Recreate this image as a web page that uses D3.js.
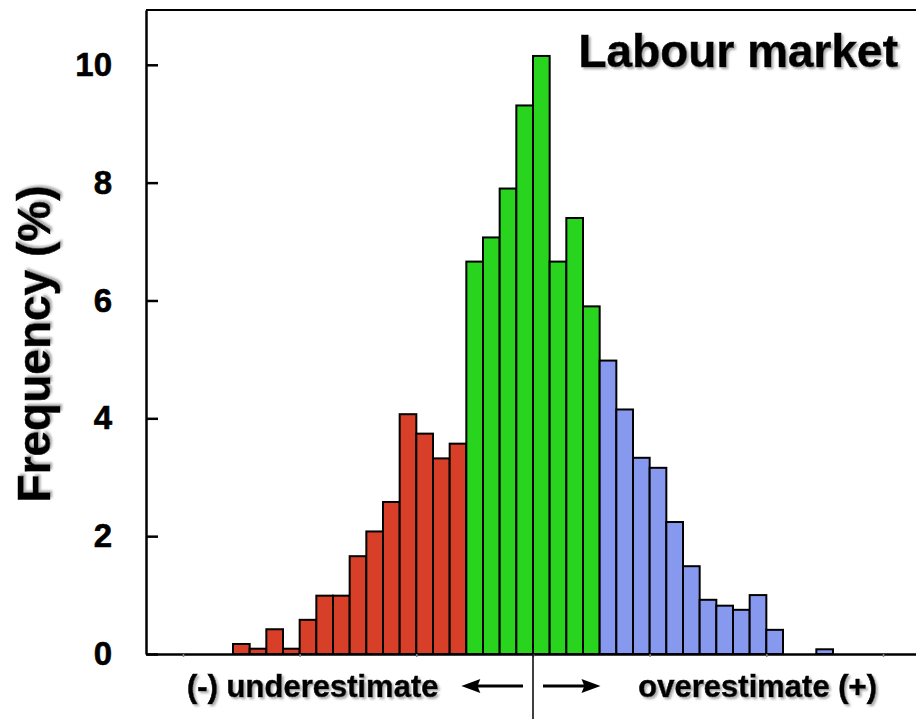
<!DOCTYPE html>
<html>
<head>
<meta charset="utf-8">
<script src="https://cdn.jsdelivr.net/npm/d3@7"></script>
<style>
  body { margin: 0; background: #fff; }
  svg { display: block; font-family: "Liberation Sans", Arial, sans-serif; font-weight: bold; }
</style>
</head>
<body>
<div id="chart"></div>
<script>
// bins are in units of one bar width, 0 = no error
const underBins = [-18, -17, -16, -15, -14, -13, -12, -11, -10, -9, -8, -7, -6, -5]
const underValues = [0.17, 0.09, 0.42, 0.09, 0.58, 0.99, 0.99, 1.66, 2.08, 2.58, 4.07, 3.74, 3.32, 3.57]
const nearBins = [-4, -3, -2, -1, 0, 1, 2, 3]
const nearValues = [6.66, 7.07, 7.90, 9.31, 10.15, 6.66, 7.40, 5.90]
const overBins = [4, 5, 6, 7, 8, 9, 10, 11, 12, 13, 14, 17]
const overValues = [4.98, 4.15, 3.33, 3.16, 2.24, 1.49, 0.92, 0.82, 0.75, 1.00, 0.41, 0.08]
const yTicks = [0, 2, 4, 6, 8, 10]
const xTicks = [-21, -14, -7, 0, 7, 14, 21]
const title = 'Labour market'
const yLabel = 'Frequency (%)'
const leftLabel = '(-) underestimate'
const rightLabel = 'overestimate (+)'

const width = 916,
    height = 719

const margin = ({
    top: 10,
    right: 0,
    bottom: 65,
    left: 146
})

const x = d3.scaleLinear()
    .domain([-23.22, 22.98])
    .range([margin.left, width - margin.right])

const y = d3.scaleLinear()
    .domain([0, 10.93])
    .range([height - margin.bottom, margin.top])

const svg = d3.select('#chart').append('svg')
    .attr('width', width)
    .attr('height', height)

const defs = svg.append('defs')
defs.append('filter')
    .attr('id', 'shadow')
    .attr('x', '-10%').attr('y', '-10%')
    .attr('width', '120%').attr('height', '130%')
    .append('feDropShadow')
    .attr('dx', 2).attr('dy', 2)
    .attr('stdDeviation', 0.8)
    .attr('flood-color', '#999')
    .attr('flood-opacity', 0.8)

const groups = [
    { bins: underBins, values: underValues, fill: '#d83f29' },
    { bins: nearBins, values: nearValues, fill: '#29d41f' },
    { bins: overBins, values: overValues, fill: '#8799ef' }
]

groups.forEach(g => {
    const data = g.bins.map((b, i) => ({ bin: b, value: g.values[i] }))
    svg.append('g')
        .selectAll('rect')
        .data(data)
        .join('rect')
        .attr('x', d => x(d.bin))
        .attr('y', d => y(d.value))
        .attr('width', d => x(d.bin + 1) - x(d.bin))
        .attr('height', d => y(0) - y(d.value))
        .attr('fill', g.fill)
        .attr('stroke', '#000')
        .attr('stroke-width', 2)
})

// frame: top line
svg.append('line')
    .attr('x1', x.range()[0]).attr('x2', x.range()[1])
    .attr('y1', y(10.93)).attr('y2', y(10.93))
    .attr('stroke', '#000').attr('stroke-width', 2)

// x axis, unlabeled small ticks
const xAxis = svg.append('g')
    .attr('transform', `translate(0,${y(0)})`)
    .call(d3.axisBottom(x).tickValues(xTicks).tickSizeInner(3).tickSizeOuter(0).tickFormat(''))
xAxis.select('.domain').attr('stroke-width', 2.5)
xAxis.selectAll('.tick line').attr('stroke', '#888').attr('stroke-width', 1.5)

// y axis
const yAxis = svg.append('g')
    .attr('transform', `translate(${margin.left},0)`)
    .call(d3.axisLeft(y).tickValues(yTicks).tickSizeInner(18).tickSizeOuter(0).tickPadding(16))
yAxis.select('.domain').attr('stroke-width', 2.5)
yAxis.selectAll('.tick line').attr('x2', 12).attr('stroke-width', 2.5)
yAxis.selectAll('.tick text')
    .attr('font-size', 33)
    .attr('font-weight', 'bold')
    .attr('font-family', '"Liberation Sans", Arial, sans-serif')
    .attr('fill', '#000')
    .attr('stroke', '#000')
    .attr('stroke-width', 0.6)

// centre line below the axis
svg.append('line')
    .attr('x1', x(0)).attr('x2', x(0))
    .attr('y1', y(0)).attr('y2', height)
    .attr('stroke', '#000').attr('stroke-width', 1.5)

// arrows: shaft plus a filled head
function arrow(from, to, ay) {
    const x0 = x(from), x1 = x(to)
    const dir = Math.sign(x1 - x0)
    const headLen = 19, headHalf = 7
    svg.append('line')
        .attr('x1', x0).attr('x2', x1 - dir * headLen * 0.8)
        .attr('y1', ay).attr('y2', ay)
        .attr('stroke', '#000').attr('stroke-width', 3)
    svg.append('path')
        .attr('d', `M${x1},${ay} L${x1 - dir * headLen},${ay - headHalf} L${x1 - dir * headLen * 0.85},${ay} L${x1 - dir * headLen},${ay + headHalf} Z`)
        .attr('fill', '#000')
}
arrow(-0.6, -4.3, 686)
arrow(0.6, 4.05, 686)

const labelStyle = sel => sel
    .attr('fill', '#000')
    .attr('stroke', '#000')
    .attr('stroke-width', 0.6)
    .attr('filter', 'url(#shadow)')

svg.append('text')
    .attr('x', 187).attr('y', 697)
    .attr('font-size', 31)
    .call(labelStyle)
    .text(leftLabel)

svg.append('text')
    .attr('x', 877).attr('y', 697)
    .attr('text-anchor', 'end')
    .attr('font-size', 31)
    .call(labelStyle)
    .text(rightLabel)

svg.append('text')
    .attr('x', 898).attr('y', 67)
    .attr('text-anchor', 'end')
    .attr('font-size', 46)
    .call(labelStyle)
    .text(title)

svg.append('text')
    .attr('transform', 'translate(50,344) rotate(-90)')
    .attr('text-anchor', 'middle')
    .attr('font-size', 46)
    .call(labelStyle)
    .text(yLabel)
</script>
</body>
</html>
